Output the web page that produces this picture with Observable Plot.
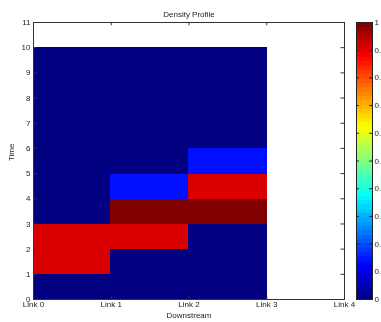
<!DOCTYPE html>
<html><head><meta charset="utf-8">
<script src="https://cdn.jsdelivr.net/npm/d3@7"></script>
<script src="https://cdn.jsdelivr.net/npm/@observablehq/plot@0.6"></script>
<style>
html,body{margin:0;padding:0;overflow:hidden;background:#fff;width:381px;height:322px;}
#wrap{position:relative;width:381px;height:322px;overflow:hidden;}
#main{position:absolute;left:0;top:0;width:381px;height:322px;}
#cbar{position:absolute;left:356px;top:0;width:40px;height:322px;}
svg{font-family:"Liberation Sans",Arial,sans-serif;max-width:none !important;will-change:transform;-webkit-font-smoothing:antialiased;}
</style></head>
<body><div id="wrap"><div id="main"></div><div id="cbar"></div></div>
<script>
// Data
const links = ["Link 0", "Link 1", "Link 2", "Link 3", "Link 4"];
const timeTicks = [0,1,2,3,4,5,6,7,8,9,10,11];
const times = [0,1,2,3,4,5,6,7,8,9];
const densityLink0 = [0, 0.91, 0.91, 0, 0, 0, 0, 0, 0, 0];
const densityLink1 = [0, 0, 0.91, 1, 0.14, 0, 0, 0, 0, 0];
const densityLink2 = [0, 0, 0, 1, 0.91, 0.14, 0, 0, 0, 0];
const colorbarTicks = [0,0.1,0.2,0.3,0.4,0.5,0.6,0.7,0.8,0.9,1];

const series = [densityLink0, densityLink1, densityLink2];
const cells = [];
series.forEach((vals, li) => vals.forEach((v, ti) => cells.push({link: li, t: times[ti], v})));

const clamp = x => Math.max(0, Math.min(1, x));
function jet(x) {
  const r = clamp(Math.min(4*x - 1.5, -4*x + 4.5));
  const g = clamp(Math.min(4*x - 0.5, -4*x + 3.5));
  const b = clamp(Math.min(4*x + 0.5, -4*x + 2.5));
  return `rgb(${Math.round(r*255)},${Math.round(g*255)},${Math.round(b*255)})`;
}
const colorOpts = {type: "linear", domain: [0, 1], interpolate: jet};

const linkIdx = links.map((_, i) => i);
const axisCol = "#333";
const txt = "#222";

const main = Plot.plot({
  width: 381, height: 322,
  marginLeft: 33, marginRight: 37, marginTop: 22, marginBottom: 23,
  style: {fontSize: "8px", fontFamily: "Liberation Sans, Arial, sans-serif", background: "white", overflow: "visible"},
  x: {domain: [0, 4], axis: null},
  y: {domain: [0, 11], axis: null},
  color: colorOpts,
  marks: [
    Plot.rect(cells, {x1: "link", x2: d => d.link + 1, y1: "t", y2: d => d.t + 1, fill: d => d.v, stroke: d => d.v, strokeWidth: 1, shapeRendering: "crispEdges"}),
    Plot.frame({stroke: axisCol}),
    // inward ticks
    Plot.ruleX(linkIdx, {x: d => d, y1: 0, y2: 0.13, stroke: axisCol}),
    Plot.ruleX(linkIdx, {x: d => d, y1: 11, y2: 10.87, stroke: axisCol}),
    Plot.ruleY(timeTicks, {y: d => d, x1: 0, x2: 0.045, stroke: axisCol}),
    Plot.ruleY(timeTicks, {y: d => d, x1: 4, x2: 3.955, stroke: axisCol}),
    Plot.text(linkIdx, {x: d => d, frameAnchor: "bottom", dy: 7, text: i => links[i], fill: txt}),
    Plot.text(timeTicks, {y: d => d, frameAnchor: "left", dx: -3, textAnchor: "end", text: d => String(d), fill: txt}),
    Plot.text(["Density Profile"], {frameAnchor: "top", dy: -11, fill: txt}),
    Plot.text(["Downstream"], {frameAnchor: "bottom", dy: 18, fill: txt}),
    Plot.text(["Time"], {frameAnchor: "left", dx: -22, rotate: -90, fill: txt})
  ]
});
document.getElementById("main").appendChild(main);

const steps = d3.range(64).map(i => ({lo: i/64, hi: (i+1)/64, v: (i+0.5)/64}));
const cbar = Plot.plot({
  width: 40, height: 322,
  marginLeft: 0, marginRight: 24, marginTop: 22, marginBottom: 23,
  style: {fontSize: "8px", fontFamily: "Liberation Sans, Arial, sans-serif", overflow: "visible", background: "transparent"},
  x: {domain: [0, 1], axis: null},
  y: {domain: [0, 1], axis: null},
  color: colorOpts,
  marks: [
    Plot.rect(steps, {x1: 0, x2: 1, y1: "lo", y2: "hi", fill: "v", stroke: "v", strokeWidth: 1, shapeRendering: "crispEdges"}),
    Plot.frame({stroke: txt}),
    Plot.ruleY(colorbarTicks, {y: d => d, x1: 0, x2: 0.18, stroke: txt}),
    Plot.ruleY(colorbarTicks, {y: d => d, x1: 1, x2: 0.82, stroke: txt}),
    Plot.text(colorbarTicks, {x: 1, y: d => d, text: d => String(d), dx: 2, textAnchor: "start", fill: txt})
  ]
});
document.getElementById("cbar").appendChild(cbar);
</script></body></html>
